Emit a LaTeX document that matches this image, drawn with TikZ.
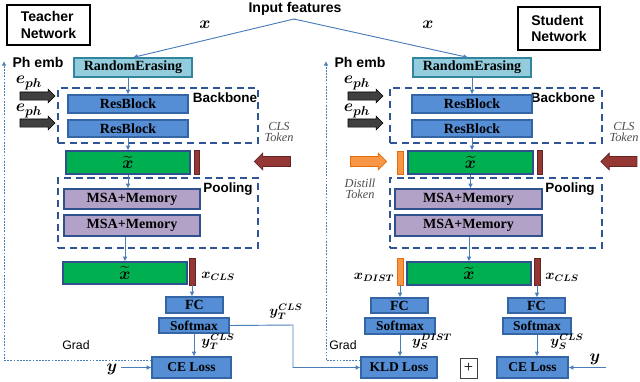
\documentclass[tikz,border=0pt]{standalone}
\usepackage{fontspec}
\setmainfont{Liberation Serif}
\setsansfont{Liberation Sans}
\usepackage{amsmath}
\usepackage{bm}
\usetikzlibrary{arrows.meta,shapes.arrows}
\definecolor{blockblue}{HTML}{558ED5}
\definecolor{blockedge}{HTML}{3465A4}
\definecolor{eraseteal}{HTML}{93CDDD}
\definecolor{eraseedge}{HTML}{31859C}
\definecolor{msalilac}{HTML}{B3A2C7}
\definecolor{navyedge}{HTML}{2F528F}
\definecolor{tokgreen}{HTML}{00B050}
\definecolor{clsred}{HTML}{953735}
\definecolor{clsedge}{HTML}{632523}
\definecolor{distorange}{HTML}{F79646}
\definecolor{distedge}{HTML}{E46C0A}
\definecolor{dashnavy}{HTML}{2F5597}
\definecolor{linkblue}{HTML}{4A7EBB}
\definecolor{embgrey}{HTML}{404040}

\begin{document}
\begin{tikzpicture}[x=0.03cm,y=-0.03cm,
  sz/.style 2 args={minimum width=#1*0.03cm,minimum height=#2*0.03cm,inner sep=0pt},
  blk/.style={draw=blockedge,fill=blockblue,line width=1pt,font=\bfseries\fontsize{12}{14}\selectfont},
  blksm/.style={blk,font=\bfseries\fontsize{11.5}{13}\selectfont},
  erase/.style={draw=eraseedge,fill=eraseteal,line width=1pt,font=\bfseries\fontsize{12}{14}\selectfont},
  msa/.style={draw=navyedge,fill=msalilac,line width=1pt,font=\bfseries\fontsize{12}{14}\selectfont},
  feat/.style={draw=navyedge,fill=tokgreen,line width=1pt},
  clsbar/.style={draw=clsedge,fill=clsred,line width=0.6pt},
  distbar/.style={draw=distedge,fill=distorange,line width=0.6pt},
  dashbox/.style={draw=dashnavy,line width=1.4pt,dash pattern=on 6pt off 4pt},
  link/.style={draw=linkblue,line width=0.8pt,-{Latex[length=4pt,width=4pt]}},
  grad/.style={draw=linkblue,line width=0.8pt,dash pattern=on 1.5pt off 1.2pt},
  sflab/.style={font=\sffamily\bfseries\fontsize{12}{14}\selectfont},
  toklab/.style={font=\itshape\fontsize{10.5}{11.5}\selectfont,text=black!70,align=center},
  emb/.style={single arrow,draw=black,fill=embgrey,line width=0.5pt,
    inner xsep=0pt,inner ysep=3.2pt,single arrow head indent=0pt,
    minimum height=35*0.03cm,single arrow head extend=2.4pt},
  tokarrow/.style={single arrow,line width=0.6pt,inner xsep=0pt,inner ysep=4pt,
    minimum height=36*0.03cm,single arrow head extend=2.8pt}]
\useasboundingbox (0,0) rectangle (640,381);

% input
\node[sflab] (input) at (295,9) {Input features};
\coordinate (split) at (294,19);
\node (tx) at (205,25) {\fontsize{15}{15}\selectfont$\bm{x}$};
\node (sx) at (428,25) {\fontsize{15}{15}\selectfont$\bm{x}$};

% teacher network
\node[draw,line width=1.2pt,sz={83}{40},sflab,align=left] (tnet) at (48.5,25) {Teacher\\Network};
\node[sflab] (tph) at (38,62) {Ph emb};
\node[erase,sz={118}{19}] (tre) at (133,67.5) {RandomErasing};
\node[dashbox,sz={200}{55}] (tbb) at (158,115.5) {};
\node[sflab,font=\sffamily\bfseries\fontsize{11.5}{13}\selectfont] (tbbl) at (225,98) {Backbone};
\node[blk,sz={120}{18}] (tres1) at (128,104) {ResBlock};
\node[blk,sz={120}{17}] (tres2) at (128,128.5) {ResBlock};
\node (teph1) at (29,83) {\fontsize{15}{15}\selectfont$\bm{e_{ph}}$};
\node[emb] (temb1) at (35.5,96) {};
\node (teph2) at (29,111) {\fontsize{15}{15}\selectfont$\bm{e_{ph}}$};
\node[emb] (temb2) at (35.5,123) {};
\node[toklab] (tclsl) at (279,132) {CLS\\[-2pt]Token};
\node[tokarrow,draw=clsedge,fill=clsred,shape border rotate=180] (tclsa) at (275,161.5) {};
\node[feat,sz={124}{23}] (txt) at (128,162.5) {\fontsize{14}{14}\selectfont$\bm{\widetilde{x}}$};
\node[clsbar,sz={5}{24}] (tcls) at (196.5,162.5) {};
\node[dashbox,sz={200}{70}] (tpool) at (158,213) {};
\node[sflab,font=\sffamily\bfseries\fontsize{11.5}{13}\selectfont] (tpooll) at (228,189) {Pooling};
\node[msa,sz={136}{20}] (tmsa1) at (132,199) {MSA+Memory};
\node[msa,sz={136}{21}] (tmsa2) at (132,225.5) {MSA+Memory};
\node[feat,sz={124}{22}] (txo) at (125,273) {\fontsize{14}{14}\selectfont$\bm{\widetilde{x}}$};
\node[clsbar,sz={6}{27}] (tclso) at (192,271.5) {};
\node (tclsx) at (218,276) {\fontsize{12}{12}\selectfont$\bm{x_{CLS}}$};
\node[blk,sz={57}{16}] (tfc) at (194.5,305) {FC};
\node[blksm,sz={70}{15}] (tsm) at (194,325.5) {Softmax};
\node[blksm,sz={79}{21}] (tce) at (191.5,367.5) {CE Loss};
\node (tyt) at (218,342) {\fontsize{12}{12}\selectfont$\bm{y_T^{CLS}}$};
\node (tyk) at (286,312) {\fontsize{12}{12}\selectfont$\bm{y_T^{CLS}}$};
\node (ty) at (112,369) {\fontsize{14}{14}\selectfont$\bm{y}$};
\node[font=\sffamily\fontsize{10.5}{12}\selectfont] (tgradl) at (76,345) {Grad};
\coordinate (tgtop) at (4,61);
\coordinate (tgbot) at (4,360);
\coordinate (tbend) at (293,325);

% student network
\node[draw,line width=1.2pt,sz={82}{43},sflab,align=left] (snet) at (559,28.5) {Student\\Network};
\node[sflab] (sph) at (360,62) {Ph emb};
\node[erase,sz={118}{19}] (sre) at (472,67.5) {RandomErasing};
\node[dashbox,sz={212}{55}] (sbb) at (496,115.5) {};
\node[sflab,font=\sffamily\bfseries\fontsize{11.5}{13}\selectfont] (sbbl) at (563,98) {Backbone};
\node[blk,sz={120}{18}] (sres1) at (472,104) {ResBlock};
\node[blk,sz={120}{17}] (sres2) at (472,128.5) {ResBlock};
\node (seph1) at (357,83) {\fontsize{15}{15}\selectfont$\bm{e_{ph}}$};
\node[emb] (semb1) at (363.5,96) {};
\node (seph2) at (357,111) {\fontsize{15}{15}\selectfont$\bm{e_{ph}}$};
\node[emb] (semb2) at (363.5,123) {};
\node[toklab] (sclsl) at (624,132) {CLS\\[-2pt]Token};
\node[tokarrow,draw=clsedge,fill=clsred,shape border rotate=180] (sclsa) at (621.5,161.5) {};
\node[tokarrow,draw=distedge,fill=distorange] (sdista) at (366,161.5) {};
\node[toklab] (sdistl) at (360,189) {Distill\\[-2pt]Token};
\node[distbar,sz={6}{23}] (sdist) at (400,162.5) {};
\node[feat,sz={125}{23}] (sxt) at (470.5,162.5) {\fontsize{14}{14}\selectfont$\bm{\widetilde{x}}$};
\node[clsbar,sz={5}{24}] (scls) at (539.5,162.5) {};
\node[dashbox,sz={212}{70}] (spool) at (496,213) {};
\node[sflab,font=\sffamily\bfseries\fontsize{11.5}{13}\selectfont] (spooll) at (570,189) {Pooling};
\node[msa,sz={147}{20}] (smsa1) at (468.5,199) {MSA+Memory};
\node[msa,sz={147}{21}] (smsa2) at (468.5,225.5) {MSA+Memory};
\node[distbar,sz={6}{27}] (sdisto) at (400,271.5) {};
\node[feat,sz={124}{23}] (sxo) at (469,273.5) {\fontsize{14}{14}\selectfont$\bm{\widetilde{x}}$};
\node[clsbar,sz={6}{27}] (sclso) at (537,271.5) {};
\node (sdistx) at (374,277) {\fontsize{12}{12}\selectfont$\bm{x_{DIST}}$};
\node (sclsx) at (562,277) {\fontsize{12}{12}\selectfont$\bm{x_{CLS}}$};
\node[blk,sz={57}{15}] (sfcd) at (399.5,305.5) {FC};
\node[blksm,sz={70}{16}] (ssmd) at (400,326) {Softmax};
\node[blksm,sz={76}{21}] (skld) at (399,367.5) {KLD Loss};
\node (syd) at (432,342) {\fontsize{12}{12}\selectfont$\bm{y_S^{DIST}}$};
\node[draw=black!75,line width=0.6pt,sz={17}{20},font=\fontsize{14}{14}\selectfont] (plus) at (468.5,368) {+};
\node[blk,sz={57}{15}] (sfcc) at (536.5,305.5) {FC};
\node[blksm,sz={68}{16}] (ssmc) at (537,326) {Softmax};
\node[blksm,sz={71}{21}] (sce) at (532.5,367.5) {CE Loss};
\node (syc) at (567,342) {\fontsize{12}{12}\selectfont$\bm{y_S^{CLS}}$};
\node (sy) at (595,359) {\fontsize{14}{14}\selectfont$\bm{y}$};
\coordinate (syin) at (606,367.5);
\node[font=\sffamily\fontsize{10.5}{12}\selectfont] (sgradl) at (343,345) {Grad};
\coordinate (sgtop) at (326,61);
\coordinate (sgbot) at (326,360);

% connectors
\draw[draw=linkblue,line width=0.8pt] (split) -- (input.south);
\draw[link] (split) -- (tre.north);
\draw[link] (split) -- (sre.north -| 468,0);
\draw[link] (tres1.north |- tre.south) -- (tres1.north);
\draw[link] (tres2.south) -- (tres2.south |- txt.north);
\draw[link] (txt.south) -- (txt.south |- tmsa1.north);
\draw[link] (txo.north |- tmsa2.south) -- (txo.north);
\draw[link] (tclso.south) -- (tclso.south |- tfc.north);
\draw[link] (tsm.south) -- (tsm.south |- tce.north);
\draw[link] (ty.east |- tce.west) -- (tce.west);
\draw[link] (tsm.east) -- (tbend) |- (skld.west);
\draw[grad,-{Latex[length=4pt,width=4pt]}] (tce.west |- tgbot) -- (tgbot) -- (tgtop);

\draw[link] (sres1.north |- sre.south) -- (sres1.north);
\draw[link] (sres2.south) -- (sres2.south |- sxt.north);
\draw[link] (sxt.south) -- (sxt.south |- smsa1.north);
\draw[link] (sxo.north |- smsa2.south) -- (sxo.north);
\draw[link] (sdisto.south) -- (sdisto.south |- sfcd.north);
\draw[link] (sclso.south) -- (sclso.south |- sfcc.north);
\draw[link] (ssmd.south) -- (ssmd.south |- skld.north);
\draw[link] (ssmc.south) -- (ssmc.south |- sce.north);
\draw[link] (syin) -- (sce.east);
\draw[grad,-{Latex[length=4pt,width=4pt]}] (skld.west |- sgbot) -- (sgbot) -- (sgtop);
\end{tikzpicture}
\end{document}
